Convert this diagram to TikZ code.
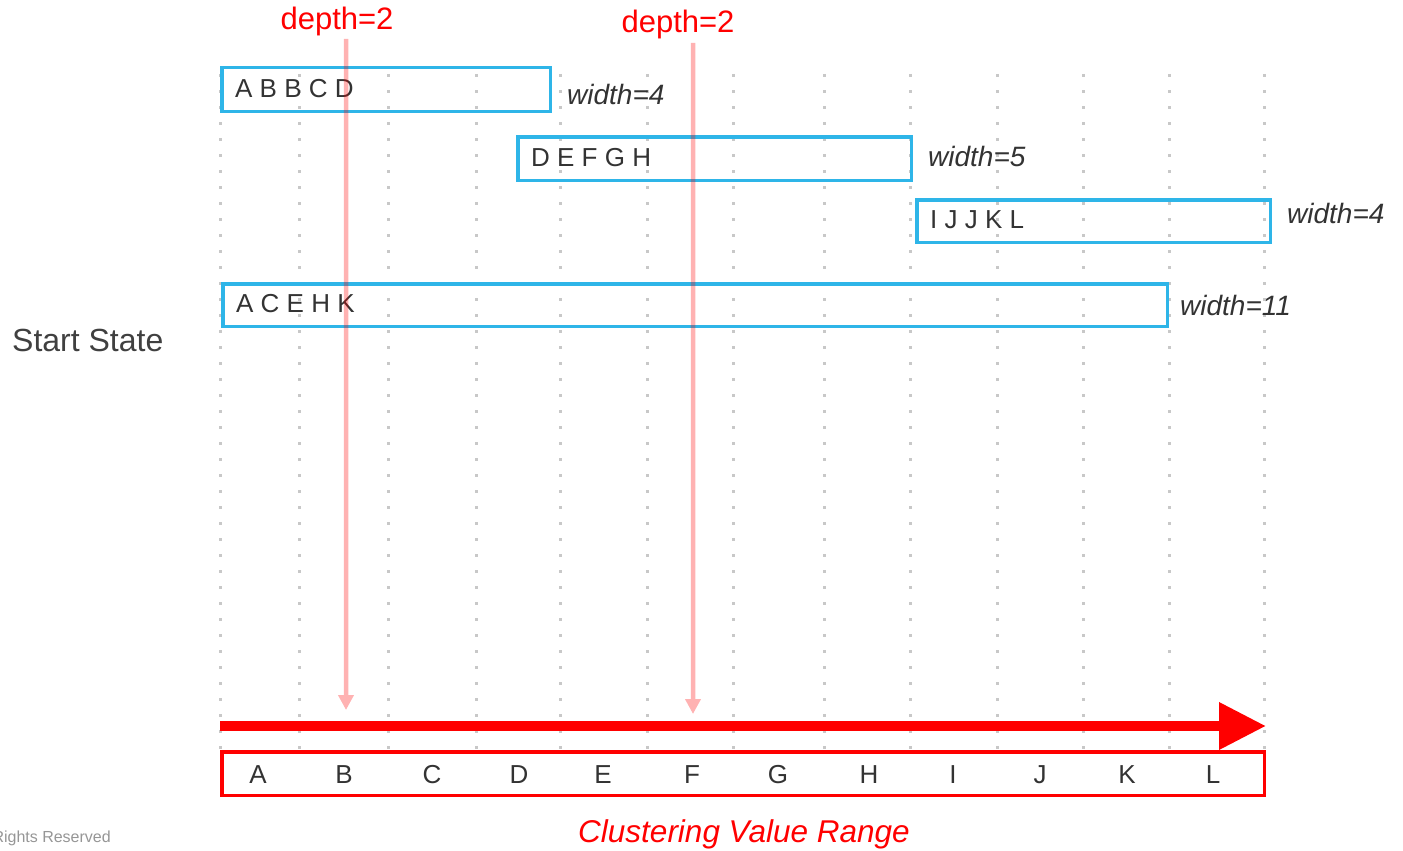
\documentclass[tikz,border=0pt]{standalone}
\usepackage{fontspec}
\setmainfont{Liberation Sans}
\usetikzlibrary{arrows.meta}
\definecolor{boxblue}{RGB}{46,181,232}
\definecolor{gridgrey}{RGB}{200,200,200}
\definecolor{txtgrey}{RGB}{51,51,51}
\definecolor{lblgrey}{RGB}{64,64,64}
\definecolor{notegrey}{RGB}{150,150,150}
\begin{document}
\begin{tikzpicture}[x=1pt,y=-1pt,
  gridline/.style={draw=gridgrey, line width=3pt, dash pattern=on 3pt off 13pt},
  bluebox/.style={draw=boxblue, line width=3.5pt, rectangle, inner sep=0pt},
  rangebox/.style={draw=red, line width=3.5pt, rectangle, inner sep=0pt},
  boxtext/.style={anchor=west, inner sep=0pt, text=txtgrey, font=\fontsize{26}{30}\selectfont},
  widthlbl/.style={anchor=west, inner sep=0pt, text=txtgrey, font=\fontsize{28}{32}\selectfont\itshape},
  axislbl/.style={anchor=base, inner sep=0pt, text=txtgrey, font=\fontsize{26}{30}\selectfont},
  depthlbl/.style={anchor=base, inner sep=0pt, text=red, font=\fontsize{31}{35}\selectfont},
  depthline/.style={draw=red, line width=4.5pt, -{Triangle[length=15pt,width=15pt]}},
  axisarrow/.style={draw=red, line width=10pt, -{Triangle[length=47pt,width=45pt]}}
]
\useasboundingbox (0,0) rectangle (1403,851);

% vertical dotted grid lines, one per value boundary
\foreach \gx [count=\i] in {220,299,388,476,560,647,733,824,910,997,1083,1169,1264}{
  \coordinate (g\i t) at (\gx,74);
  \coordinate (g\i b) at (\gx,752);
  \draw[gridline] (g\i t) -- (g\i b);
}

% file ranges
\node[bluebox, minimum width=328.5pt, minimum height=43.5pt] (f1) at (386,89.5) {};
\node[boxtext] (f1t) at (235,89) {A B B C D};
\node[widthlbl] (f1w) at (567,94) {width=4};

\node[bluebox, minimum width=393.5pt, minimum height=43.5pt] (f2) at (714.5,158.5) {};
\node[boxtext] (f2t) at (531,158) {D E F G H};
\node[widthlbl] (f2w) at (928,156) {width=5};

\node[bluebox, minimum width=353.5pt, minimum height=42.5pt] (f3) at (1093.5,221) {};
\node[boxtext] (f3t) at (930,220) {I J J K L};
\node[widthlbl] (f3w) at (1287,213) {width=4};

\node[bluebox, minimum width=944.5pt, minimum height=42.5pt] (f4) at (695,305) {};
\node[boxtext] (f4t) at (236,304) {A C E H K};
\node[widthlbl] (f4w) at (1180,305) {width=11};

% state label
\node[anchor=base west, inner sep=0pt, text=lblgrey, font=\fontsize{32}{36}\selectfont] (state) at (12,351) {Start State};

% value axis
\coordinate (ax0) at (220,726);
\coordinate (ax1) at (1266,726);
\draw[axisarrow] (ax0) -- (ax1);

\node[rangebox, minimum width=1042.5pt, minimum height=43.5pt] (range) at (743,773.5) {};
\foreach \lx/\lt in {258/A,344/B,432/C,519/D,603/E,692/F,778/G,869/H,953/I,1040/J,1127/K,1213/L}{
  \node[axislbl] (v\lt) at (\lx,783) {\lt};
}
\node[anchor=base, inner sep=0pt, text=red, font=\fontsize{31.5}{35}\selectfont\itshape] (rangelbl) at (744,842) {Clustering Value Range};

% depth probes
\node[depthlbl] (d1lbl) at (337,30) {depth=2};
\node[depthlbl] (d2lbl) at (678,33) {depth=2};
\coordinate (d1a) at (346,39);
\coordinate (d1b) at (346,710);
\coordinate (d2a) at (693,43);
\coordinate (d2b) at (693,714);
\begin{scope}[transparency group, opacity=0.3]
  \draw[depthline] (d1a) -- (d1b);
\end{scope}
\begin{scope}[transparency group, opacity=0.3]
  \draw[depthline] (d2a) -- (d2b);
\end{scope}

% footer note
\node[anchor=base east, inner sep=0pt, text=notegrey, font=\fontsize{16}{19}\selectfont] (note) at (111,842) {Rights Reserved};
\end{tikzpicture}
\end{document}
